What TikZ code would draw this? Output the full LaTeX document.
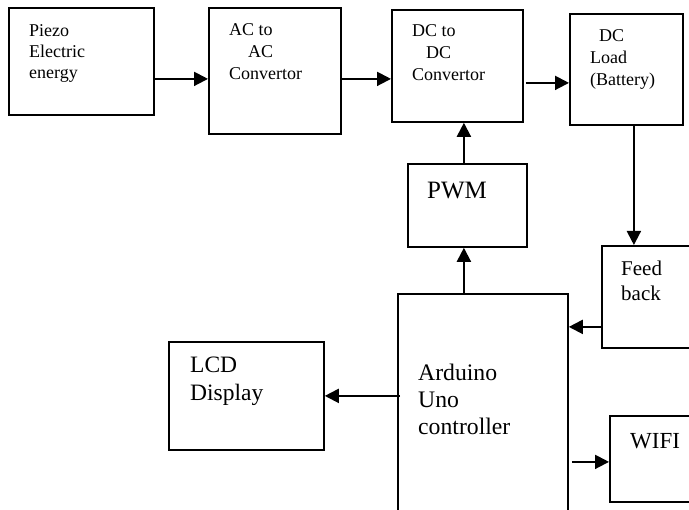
\documentclass[tikz,border=0pt]{standalone}
\usepackage{fontspec}
\setmainfont{Liberation Serif}
\usetikzlibrary{arrows.meta}

\tikzset{
  blk/.style={draw, line width=1.8pt, inner sep=0pt, anchor=north west},
  txt/.style={inner sep=0pt, anchor=base west, align=left},
  arr/.style={line width=2pt, -{Triangle[length=14pt,width=14pt]}}
}
\newcommand{\smallfnt}{\fontsize{18}{22}\selectfont}

\begin{document}
\begin{tikzpicture}[x=1pt, y=-1pt]
    \clip (0,0) rectangle (689,510);

    % Top row of blocks
    \node[blk, minimum width=145pt, minimum height=107pt] (piezo) at (8,7) {};
    \node[blk, minimum width=132pt, minimum height=126pt] (acac) at (208,7) {};
    \node[blk, minimum width=131pt, minimum height=112pt] (dcdc) at (391,9) {};
    \node[blk, minimum width=113pt, minimum height=111pt] (load) at (569,13) {};

    % Lower blocks
    \node[blk, minimum width=119pt, minimum height=83pt] (pwm) at (407,163) {};
    \node[blk, minimum width=99pt, minimum height=102pt] (fb) at (601,245) {};
    \node[blk, minimum width=170pt, minimum height=240pt] (uno) at (397,293) {};
    \node[blk, minimum width=155pt, minimum height=108pt] (lcd) at (168,341) {};
    \node[blk, minimum width=91pt, minimum height=86pt] (wifi) at (609,415) {};

    % Texts (placed at the baseline of the last line)
    \node[txt, font=\fontsize{18}{21}\selectfont] (tpiezo) at (29,79) {Piezo\\Electric\\energy};
    \node[txt, font=\smallfnt] (tacac) at (229,80) {AC to\\\hspace*{19pt}AC\\Convertor};
    \node[txt, font=\smallfnt] (tdcdc) at (412,81) {DC to\\\hspace*{14pt}DC\\Convertor};
    \node[txt, font=\fontsize{18}{22}\selectfont] (tload) at (590,86) {\hspace*{9pt}DC\\Load\\(Battery)};
    \node[txt, font=\fontsize{25}{28}\selectfont] (tpwm) at (427,199) {PWM};
    \node[txt, font=\fontsize{21}{25}\selectfont] (tfb) at (621,301) {Feed\\back};
    \node[txt, font=\fontsize{23.5}{28}\selectfont] (tlcd) at (190,401) {LCD\\Display};
    \node[txt, font=\fontsize{23.7}{27}\selectfont] (tuno) at (418,435) {Arduino\\Uno\\controller};
    \node[txt, font=\fontsize{23}{27}\selectfont] (twifi) at (630,449) {WIFI};

    % Connectors
    \draw[arr] ([yshift=-17.5pt]piezo.east) coordinate (a1) -- (acac.west |- a1);
    \draw[arr] ([yshift=-8pt]acac.east) coordinate (a2) -- (dcdc.west |- a2);
    \draw[arr] ([xshift=2pt,yshift=-17pt]dcdc.east) coordinate (a3) -- (load.west |- a3);
    \draw[arr] ([xshift=-3.5pt]pwm.north) coordinate (a4) -- (a4 |- dcdc.south);
    \coordinate (a5) at ([xshift=-3.5pt]pwm.south);
    \draw[arr] (uno.north -| a5) -- (a5);
    \draw[arr] ([xshift=7.5pt]load.south) coordinate (a6) -- (a6 |- fb.north);
    \draw[arr] ([yshift=-30pt]fb.west) coordinate (a7) -- (uno.east |- a7);
    \draw[arr] ([xshift=3pt]uno.west |- lcd.east) -- (lcd.east);
    \draw[arr] ([xshift=3pt,yshift=-3pt]uno.east |- wifi.west) coordinate (a8) -- (wifi.west |- a8);
\end{tikzpicture}
\end{document}
